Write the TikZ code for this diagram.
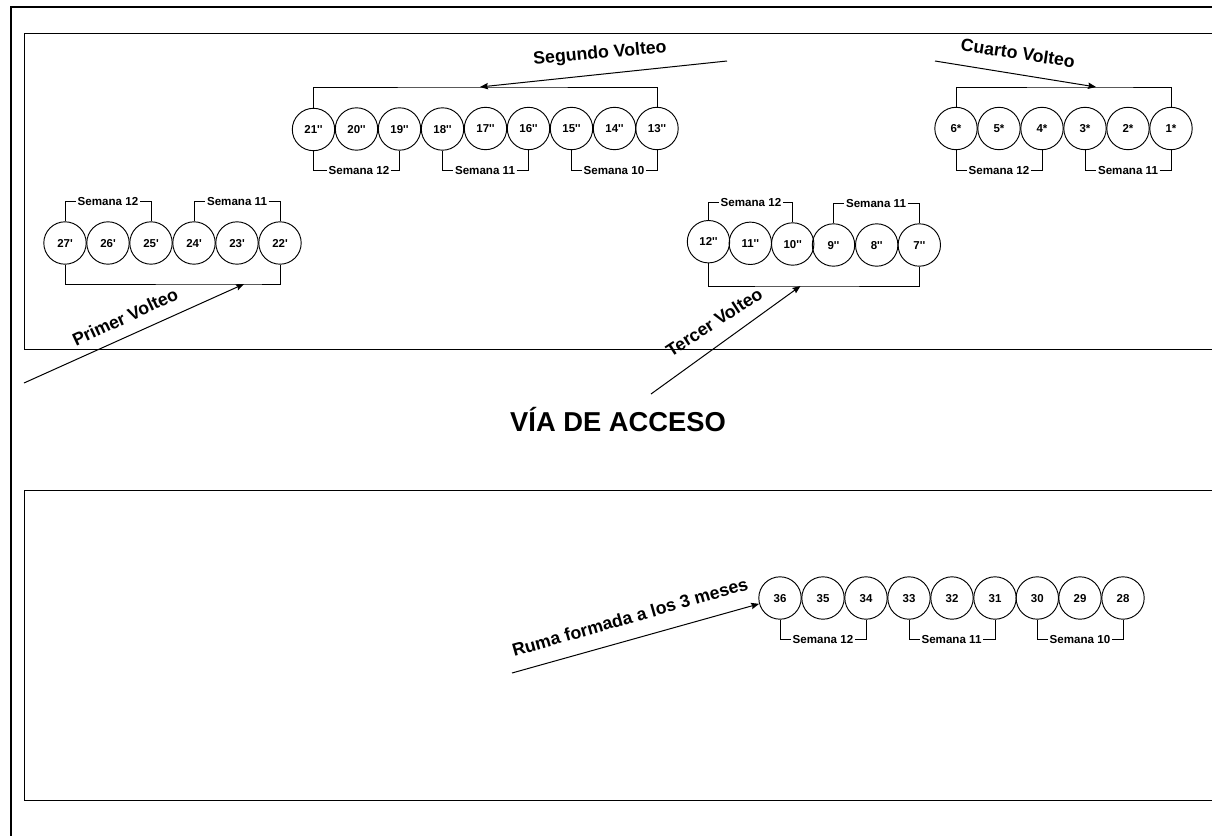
\documentclass[tikz,border=0pt]{standalone}
\usepackage{fontspec}
\newfontfamily\lib{Liberation Sans}[Ligatures=ResetAll]
\usetikzlibrary{arrows.meta}
\tikzset{
  x=.75pt,y=-.75pt,
  pile/.style={circle,draw,line width=.7pt,minimum size=31.8pt,inner sep=0pt,text height=6.2pt,text depth=0pt,font=\lib\bfseries\fontsize{8.6}{10}\selectfont},
  week/.style={inner sep=1.1pt,text height=6.2pt,text depth=0pt,font=\lib\bfseries\fontsize{8.7}{10}\selectfont},
  bracket/.style={draw,line width=.75pt},
  pointer/.style={draw,line width=.75pt,-{Stealth[length=6pt,width=4.8pt,inset=.8pt]}},
  turn/.style={inner sep=0pt,font=\lib\bfseries\fontsize{13.3}{16}\selectfont},
  zone/.style={draw,line width=.75pt},
}
\begin{document}
\begin{tikzpicture}
\useasboundingbox (0,0) rectangle (1212,835);
\begin{scope}
\clip (0,0) rectangle (1212,835);
\draw[line width=1.6pt] (11,840) -- (11,7) -- (1220,7);
\draw[zone] (1220,33) -- (24,33) -- (24,349) -- (1220,349);
\draw[zone] (1220,490) -- (24,490) -- (24,800) -- (1220,800);
\end{scope}
\foreach \n/\x/\y/\t in {
 21/313.5/129.5/21'', 20/356.5/129/20'', 19/399.5/129/19'', 18/442.5/129/18'', 17/485.5/128.5/17'', 16/528.5/128.5/16'', 15/571.5/128.5/15'', 14/614.5/128.5/14'', 13/657/128.5/13'',
 6/956/128.5/6*, 5/999/128.5/5*, 4/1042/128.5/4*, 3/1085/128.5/3*, 2/1128/128.5/2*, 1/1171/128.5/1*,
 27/65/243/27', 26/108/243/26', 25/151/243/25', 24/194/243/24', 23/237/243/23', 22/280/243/22',
 12/708.5/241.7/12'', 11/750.3/243.3/11'', 10/792.7/244/10'', 9/833.5/245/9'', 8/876.7/245/8'', 7/919.3/245/7'',
 36/780/598/36, 35/823/598/35, 34/866/598/34, 33/909/598/33, 32/952/598/32, 31/995/598/31, 30/1037.3/598/30, 29/1080/598/29, 28/1123/598/28}
 {\node[pile] (n\n) at (\x,\y) {\t};}
% week labels
\foreach \m/\x/\y/\t in {
 a/359/170/12, b/485/170/11, c/614/170/10,
 d/999/170/12, e/1128/170/11,
 f/108/201/12, g/237/201/11,
 h/751/202/12, i/876/203/11,
 j/823/639/12, k/951.5/639/11, l/1080/639/10}
 {\node[week] (w\m) at (\x,\y) {Semana \t};}
\foreach \p/\m/\q in {21/a/19, 18/b/16, 15/c/13, 6/d/4, 3/e/1, 36/j/34, 33/k/31, 30/l/28}{
 \draw[bracket] (n\p.south) |- (w\m.west);
 \draw[bracket] (w\m.east) -| (n\q.south);
}
\foreach \p/\m/\q in {27/f/25, 24/g/22, 12/h/10, 9/i/7}{
 \draw[bracket] (n\p.north) |- (w\m.west);
 \draw[bracket] (w\m.east) -| (n\q.north);
}
% turn brackets
\coordinate (tipA) at (480,87);
\coordinate (tipB) at (1096,87);
\coordinate (tipC) at (244,284);
\coordinate (tipD) at (800.5,286);
\draw[bracket] (n21.north) |- (tipA) -| (n13.north);
\draw[bracket] (n6.north) |- (tipB) -| (n1.north);
\draw[bracket] (n27.south) |- (tipC) -| (n22.south);
\draw[bracket] (n12.south) |- (tipD) -| (n7.south);
% pointers
\coordinate (fromA) at (727,61);
\coordinate (fromB) at (935,61);
\coordinate (fromC) at (24,383);
\coordinate (fromD) at (651,394);
\coordinate (fromE) at (512,673);
\draw[pointer] (fromA) -- (tipA);
\draw[pointer] (fromB) -- (tipB);
\draw[pointer] (fromC) -- (tipC);
\draw[pointer] (fromD) -- (tipD);
\draw[pointer] (fromE) -- (n36);
% turn labels
\node[turn,rotate=5.5] (lA) at (600,54) {Segundo Volteo};
\node[turn,rotate=-8.5] (lB) at (1018,53) {Cuarto Volteo};
\node[turn,rotate=25] (lC) at (125,317) {Primer Volteo};
\node[turn,rotate=33] (lD) at (714,322) {Tercer Volteo};
\node[turn,rotate=16] (lE) at (630,617) {Ruma formada a los 3 meses};
\node[inner sep=0pt,font=\lib\bfseries\fontsize{20.5}{24}\selectfont] (via) at (618,420) {VÍA DE ACCESO};
\end{tikzpicture}
\end{document}
